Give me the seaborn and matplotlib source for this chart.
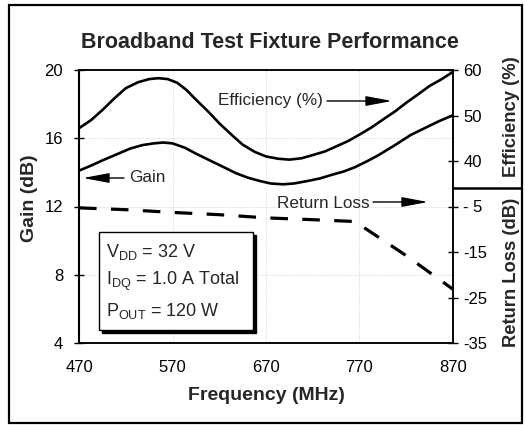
import matplotlib
matplotlib.use("Agg")
import matplotlib.pyplot as plt
import seaborn as sns
import pandas as pd
from matplotlib.patches import Rectangle

# ---- data ----
eff_freq = [470, 483, 495, 508, 520, 533, 545, 555, 565, 575, 585, 595, 608, 620, 633,
            645, 658, 670, 683, 695, 708, 720, 733, 745, 758, 770, 783, 795, 808, 820,
            833, 845, 858, 870]
eff_vals = [47.2, 49.0, 51.2, 53.8, 56.0, 57.3, 58.0, 58.2, 58.0, 57.2, 55.6, 53.5, 50.9,
            48.3, 45.8, 43.6, 42.0, 41.0, 40.5, 40.3, 40.6, 41.3, 42.1, 43.2, 44.4, 45.8,
            47.4, 49.1, 50.9, 52.8, 54.7, 56.5, 58.0, 59.6]

gain_freq = [470, 483, 495, 510, 525, 538, 550, 560, 570, 583, 595, 610, 625, 638, 650,
             663, 675, 688, 700, 715, 728, 740, 753, 765, 778, 790, 808, 825, 840, 855, 870]
gain_vals = [14.1, 14.4, 14.7, 15.05, 15.4, 15.6, 15.7, 15.75, 15.7, 15.45, 15.1, 14.7,
             14.3, 13.95, 13.7, 13.5, 13.35, 13.3, 13.35, 13.5, 13.65, 13.85, 14.05, 14.3,
             14.65, 15.0, 15.6, 16.2, 16.6, 17.0, 17.35]

rl_freq = [470, 520, 570, 620, 670, 720, 765, 820, 870]
rl_vals = [-5.3, -5.7, -6.3, -6.8, -7.5, -7.9, -8.3, -15.8, -23.2]

x_ticks = [470, 570, 670, 770, 870]
gain_ticks = [4, 8, 12, 16, 20]
eff_ticks = [40, 50, 60]
rl_ticks = [-35, -25, -15, -5]
rl_tick_labels = ["-35", "-25", "-15", "- 5"]

title = "Broadband Test Fixture Performance"
cond_lines = [r"V$_{\mathrm{DD}}$ = 32 V",
              r"I$_{\mathrm{DQ}}$ = 1.0 A Total",
              r"P$_{\mathrm{OUT}}$ = 120 W"]

# ---- style ----
sns.set_theme(style="white")
plt.rcParams["font.family"] = ["Liberation Sans", "DejaVu Sans"]
plt.rcParams["mathtext.fontset"] = "custom"
plt.rcParams["mathtext.rm"] = "Liberation Sans"
plt.rcParams["mathtext.it"] = "Liberation Sans:italic"
plt.rcParams["mathtext.bf"] = "Liberation Sans:bold"

W, H = 525, 425
fig = plt.figure(figsize=(W / 100, H / 100), dpi=100)
fig.patch.set_facecolor("white")
L, R, T, B = 79, 453, 70, 343
ax = fig.add_axes([L / W, 1 - B / H, (R - L) / W, (B - T) / H])
ax_eff = ax.twinx()
ax_rl = ax.twinx()

df_g = pd.DataFrame({"f": gain_freq, "v": gain_vals})
df_e = pd.DataFrame({"f": eff_freq, "v": eff_vals})
df_r = pd.DataFrame({"f": rl_freq, "v": rl_vals})

sns.lineplot(data=df_g, x="f", y="v", ax=ax, color="black", lw=1.9)
sns.lineplot(data=df_e, x="f", y="v", ax=ax_eff, color="black", lw=1.9)
sns.lineplot(data=df_r, x="f", y="v", ax=ax_rl, color="black", lw=2.3, dashes=False)
ax_rl.lines[0].set_dashes((5.5, 4.5))

ax.set_xlim(470, 870)
ax.set_ylim(4, 20)
ax_eff.set_ylim(0, 60)
ax_rl.set_ylim(-35, 25)

ax.set_xticks(x_ticks)
ax.set_yticks(gain_ticks)
ax_eff.set_yticks(eff_ticks)
ax_rl.set_yticks(rl_ticks)
ax_rl.set_yticklabels(rl_tick_labels)

for a in (ax, ax_eff, ax_rl):
    a.set_xlabel("")
    a.set_ylabel("")
    for s in a.spines.values():
        s.set_color("black")
        s.set_linewidth(1.1)
    a.tick_params(axis="both", direction="inout", length=7, width=1.0,
                  colors="black", labelsize=12)
ax.spines["left"].set_linewidth(1.5)
ax.tick_params(axis="x", pad=9)
ax.tick_params(axis="y", pad=8)
ax_eff.tick_params(axis="y", pad=4)
ax_rl.tick_params(axis="y", pad=4)
for side in ("right", "top", "left", "bottom"):
    ax_rl.spines[side].set_visible(False)

# faint dotted grid (as in the scan)
ax.grid(True, ls=":", lw=0.6, color="#c8c8c8")

# ---- annotations ----
def fx(px):
    return (px - L) / (R - L)

def fy(py):
    return (B - py) / (B - T)

arrow = dict(arrowstyle="-|>,head_length=1.6,head_width=0.3", lw=1.0,
             color="black", mutation_scale=10, shrinkA=0, shrinkB=0)
ax.text(fx(218), fy(100), "Efficiency (%)", transform=ax.transAxes,
        fontsize=12.3, va="center", ha="left")
ax.annotate("", xy=(fx(392), fy(101)), xytext=(fx(327), fy(101)),
            xycoords="axes fraction", textcoords="axes fraction", arrowprops=arrow)
ax.text(fx(129), fy(178), "Gain", transform=ax.transAxes,
        fontsize=12.3, va="center", ha="left")
ax.annotate("", xy=(fx(83), fy(178)), xytext=(fx(124), fy(178)),
            xycoords="axes fraction", textcoords="axes fraction", arrowprops=arrow)
ax.text(fx(277), fy(203), "Return Loss", transform=ax.transAxes,
        fontsize=12.3, va="center", ha="left")
ax.annotate("", xy=(fx(428), fy(202)), xytext=(fx(373), fy(202)),
            xycoords="axes fraction", textcoords="axes fraction", arrowprops=arrow)

# conditions box with shadow
bx0, bx1, by0, by1 = 99, 253, 232, 330
ax.add_patch(Rectangle((fx(bx0 + 3), fy(by1 + 3)), fx(bx1) - fx(bx0), fy(by0) - fy(by1),
                       transform=ax.transAxes, facecolor="black", edgecolor="black",
                       zorder=4, clip_on=False))
ax.add_patch(Rectangle((fx(bx0), fy(by1)), fx(bx1) - fx(bx0), fy(by0) - fy(by1),
                       transform=ax.transAxes, facecolor="white", edgecolor="black",
                       lw=1.0, zorder=5, clip_on=False))
for py, s in zip([252, 281, 311], cond_lines):
    ax.text(fx(106), fy(py), s, transform=ax.transAxes, fontsize=13,
            va="center", ha="left", zorder=6)

# ---- titles & axis labels ----
fig.text(270 / W, 1 - 43 / H, title, ha="center", va="center",
         fontsize=15.5, fontweight="bold")
fig.text(266 / W, 1 - 395 / H, "Frequency (MHz)", ha="center", va="center",
         fontsize=14, fontweight="bold")
fig.text(30 / W, 1 - 198 / H, "Gain (dB)", ha="center", va="center",
         fontsize=14, fontweight="bold", rotation=90)
fig.text(511 / W, 1 - 117 / H, "Efficiency (%)", ha="center", va="center",
         fontsize=13.2, fontweight="bold", rotation=90)
fig.text(511 / W, 1 - 272 / H, "Return Loss (dB)", ha="center", va="center",
         fontsize=13.2, fontweight="bold", rotation=90)

# axis break line on the right
fig.add_artist(plt.Line2D([R / W, 521 / W], [1 - 188 / H, 1 - 188 / H],
                          color="black", lw=1.8))

# outer frame
fig.add_artist(Rectangle((9 / W, 2 / H), (522 - 9) / W, (420 - 2) / H,
                         transform=fig.transFigure, fill=False,
                         edgecolor="black", lw=1.6))

fig.savefig("out.png", dpi=100, facecolor="white")
